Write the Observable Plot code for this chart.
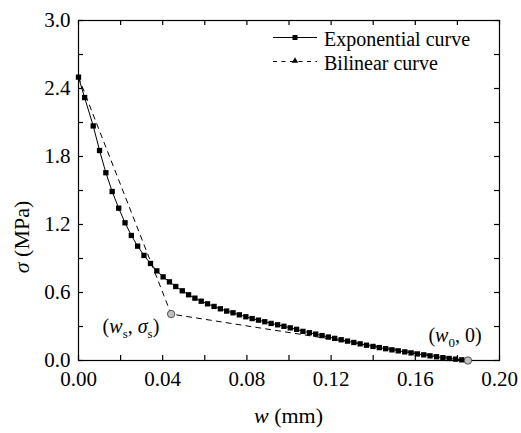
<!DOCTYPE html>
<html><head><meta charset="utf-8">
<script src="https://cdn.jsdelivr.net/npm/d3@7"></script>
<script src="https://cdn.jsdelivr.net/npm/@observablehq/plot@0.6"></script>
<style>html,body{margin:0;padding:0;background:#fff;} svg{display:block}</style>
</head><body><div id="chart"></div>
<script>
// Exponential softening curve: crack opening w (mm) and stress sigma (MPa)
const expW = [0, 0.0029, 0.0070, 0.0100, 0.0130, 0.0160, 0.0191, 0.0221, 0.0251, 0.0281,
  0.0311, 0.0342, 0.0372, 0.0402, 0.0432, 0.0462, 0.0493, 0.0523, 0.0553, 0.0583,
  0.0613, 0.0644, 0.0674, 0.0704, 0.0734, 0.0764, 0.0795, 0.0825, 0.0855, 0.0885,
  0.0915, 0.0946, 0.0976, 0.1006, 0.1036, 0.1066, 0.1097, 0.1127, 0.1157, 0.1187,
  0.1217, 0.1248, 0.1278, 0.1308, 0.1338, 0.1368, 0.1399, 0.1429, 0.1459, 0.1489,
  0.1519, 0.1550, 0.1580, 0.1610, 0.1640, 0.1670, 0.1701, 0.1731, 0.1761, 0.1791,
  0.1821, 0.1852];
const expSigma = [2.50, 2.32, 2.07, 1.853, 1.657, 1.491, 1.344, 1.215, 1.103, 1.009,
  0.927, 0.856, 0.791, 0.738, 0.694, 0.653, 0.615, 0.580, 0.550, 0.523,
  0.500, 0.477, 0.456, 0.436, 0.421, 0.403, 0.386, 0.370, 0.356, 0.342,
  0.327, 0.315, 0.302, 0.288, 0.275, 0.257, 0.245, 0.233, 0.220, 0.207,
  0.195, 0.183, 0.171, 0.159, 0.147, 0.135, 0.124, 0.114, 0.104, 0.094,
  0.085, 0.076, 0.067, 0.058, 0.050, 0.041, 0.033, 0.025, 0.018, 0.012,
  0.006, 0.000];
// Bilinear curve
const bilW = [0, 0.044, 0.185];
const bilSigma = [2.5, 0.41, 0];
// Key points (ws, σs) and (w0, 0)
const keyW = [0.044, 0.185];
const keySigma = [0.41, 0];
// Ticks
const xTicks = [0, 0.04, 0.08, 0.12, 0.16, 0.20];
const xMinor = [0.02, 0.06, 0.10, 0.14, 0.18];
const yTicks = [0, 0.6, 1.2, 1.8, 2.4, 3.0];
const yMinor = [0.3, 0.9, 1.5, 2.1, 2.7];
const legendLabels = ["Exponential curve", "Bilinear curve"];

const expData = expW.map((w, i) => ({w, s: expSigma[i]}));
const bilData = bilW.map((w, i) => ({w, s: bilSigma[i]}));
const keyData = keyW.map((w, i) => ({w, s: keySigma[i]}));
const allX = [...xTicks, ...xMinor];
const allY = [...yTicks, ...yMinor];

const W = 521, H = 433, ML = 78, MR = 22, MT = 20, MB = 73, TL = 5;
const font = "'Liberation Serif', 'Times New Roman', serif";

const chart = Plot.plot({
  width: W, height: H,
  marginLeft: ML, marginRight: MR, marginTop: MT, marginBottom: MB,
  x: {domain: [0, 0.2]},
  y: {domain: [0, 3]},
  style: {fontFamily: font, fontSize: "21px", color: "black", background: "white"},
  marks: [
    Plot.axisX({ticks: xTicks, tickSize: 0, tickPadding: 11, tickFormat: d => d.toFixed(2), label: null, fontFamily: font, fontSize: 21}),
    Plot.axisY({ticks: yTicks, tickSize: 0, tickPadding: 8, tickFormat: d => d.toFixed(1), label: null, fontFamily: font, fontSize: 21}),
    // inward ticks on all four sides
    Plot.tickX(allX, {x: d => d, insetTop: H - MT - MB - TL, stroke: "black", strokeWidth: 1.2}),
    Plot.tickX(allX, {x: d => d, insetBottom: H - MT - MB - TL, stroke: "black", strokeWidth: 1.2}),
    Plot.tickY(allY, {y: d => d, insetRight: W - ML - MR - TL, stroke: "black", strokeWidth: 1.2}),
    Plot.tickY(allY, {y: d => d, insetLeft: W - ML - MR - TL, stroke: "black", strokeWidth: 1.2}),
    Plot.frame({stroke: "black", strokeWidth: 1.2}),
    Plot.line(bilData, {x: "w", y: "s", stroke: "black", strokeWidth: 1, strokeDasharray: "5,5"}),
    Plot.line(expData, {x: "w", y: "s", stroke: "black", strokeWidth: 1}),
    Plot.dot(expData, {x: "w", y: "s", symbol: "square", r: 3, fill: "black"}),
    Plot.dot(keyData, {x: "w", y: "s", r: 3.7, fill: "#c0c0c0", stroke: "#333", strokeWidth: 0.8})
  ]
});
document.getElementById("chart").appendChild(chart);

const svg = d3.select(chart);
const sx = v => chart.scale("x").apply(v);
const sy = v => chart.scale("y").apply(v);

// Axis titles
const xt = svg.append("text").attr("x", (sx(0) + sx(0.2)) / 2).attr("y", 423)
  .attr("text-anchor", "middle").style("font-family", font).style("font-size", "22px").attr("fill", "black");
xt.append("tspan").attr("font-style", "italic").text("w");
xt.append("tspan").text(" (mm)");
const yt = svg.append("text").attr("transform", "translate(29,237) rotate(-90)")
  .attr("text-anchor", "middle").style("font-family", font).style("font-size", "22px").attr("fill", "black");
yt.append("tspan").attr("font-style", "italic").text("σ");
yt.append("tspan").text(" (MPa)");

// Annotations
function annot(x, y, sub1, second, sub2) {
  const t = svg.append("text").attr("x", x).attr("y", y).attr("text-anchor", "start")
    .style("font-family", font).style("font-size", "20px").attr("fill", "black");
  t.append("tspan").text("(");
  t.append("tspan").attr("font-style", "italic").text("w");
  t.append("tspan").attr("font-size", "13px").attr("dy", 5).text(sub1);
  t.append("tspan").attr("dy", -5).text(", ");
  if (sub2) {
    t.append("tspan").attr("font-style", "italic").text(second);
    t.append("tspan").attr("font-size", "13px").attr("dy", 5).text(sub2);
    t.append("tspan").attr("dy", -5).text(")");
  } else {
    t.append("tspan").text(second + ")");
  }
}
annot(sx(keyW[0]) - 68, sy(keySigma[0]) + 19, "s", "σ", "s");
annot(sx(keyW[1]) - 39, sy(keySigma[1]) - 18, "0", "0", null);

// Legend
const lg = svg.append("g");
const rows = [37.5, 61.5];
lg.append("line").attr("x1", 273).attr("x2", 317).attr("y1", rows[0]).attr("y2", rows[0]).attr("stroke", "black").attr("stroke-width", 1);
lg.append("rect").attr("x", 292.5).attr("y", rows[0] - 2.5).attr("width", 5).attr("height", 5).attr("fill", "black");
lg.append("line").attr("x1", 273).attr("x2", 317).attr("y1", rows[1]).attr("y2", rows[1]).attr("stroke", "black").attr("stroke-width", 1).attr("stroke-dasharray", "4,4.5");
lg.append("path").attr("d", d3.symbol(d3.symbolTriangle, 18)()).attr("transform", `translate(295,${rows[1] - 0.5})`).attr("fill", "black");
legendLabels.forEach((lab, i) => {
  lg.append("text").attr("x", 324).attr("y", rows[i] + 8).attr("text-anchor", "start")
    .style("font-family", font).style("font-size", "20px").attr("fill", "black").text(lab);
});
</script>
</body></html>
